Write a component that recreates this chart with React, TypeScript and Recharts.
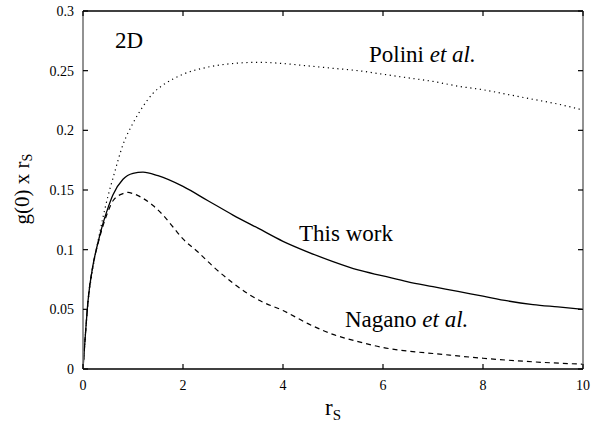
import React from "react";
import { LineChart, Line, XAxis, YAxis } from "recharts";

// This work (solid)
const thisWorkX = [0, 0.05, 0.1, 0.2, 0.3, 0.4, 0.5, 0.6, 0.8, 1.0, 1.2, 1.5, 2, 2.5, 3, 3.5, 4, 4.5, 5, 5.5, 6, 6.5, 7, 7.5, 8, 8.5, 9, 9.5, 10];
const thisWorkY = [0, 0.03, 0.057, 0.087, 0.106, 0.122, 0.135, 0.146, 0.159, 0.164, 0.165, 0.162, 0.153, 0.141, 0.129, 0.118, 0.107, 0.098, 0.09, 0.083, 0.078, 0.073, 0.069, 0.065, 0.061, 0.057, 0.054, 0.052, 0.05];

// Nagano et al. (dashed)
const naganoX = [0, 0.05, 0.1, 0.2, 0.3, 0.4, 0.5, 0.6, 0.8, 0.9, 1.0, 1.2, 1.4, 1.6, 1.8, 2.0, 2.3, 2.6, 3.0, 3.3, 3.6, 4, 4.5, 5, 5.5, 6, 6.5, 7, 8, 9, 10];
const naganoY = [0, 0.03, 0.057, 0.087, 0.105, 0.12, 0.132, 0.141, 0.147, 0.148, 0.147, 0.143, 0.137, 0.129, 0.119, 0.109, 0.098, 0.086, 0.072, 0.063, 0.056, 0.049, 0.038, 0.029, 0.023, 0.018, 0.015, 0.013, 0.009, 0.006, 0.004];

// Polini et al. (dotted)
const poliniX = [0, 0.05, 0.1, 0.2, 0.3, 0.4, 0.5, 0.6, 0.8, 1.0, 1.2, 1.4, 1.6, 1.8, 2.0, 2.5, 3, 3.5, 4, 4.5, 5, 5.5, 6, 6.5, 7, 7.5, 8, 8.5, 9, 9.5, 10];
const poliniY = [0, 0.03, 0.055, 0.085, 0.107, 0.127, 0.145, 0.16, 0.188, 0.206, 0.22, 0.231, 0.238, 0.243, 0.247, 0.253, 0.256, 0.257, 0.256, 0.254, 0.252, 0.25, 0.247, 0.244, 0.241, 0.237, 0.234, 0.23, 0.226, 0.222, 0.217];

const xTicks = [0, 2, 4, 6, 8, 10];
const yTicks = [0, 0.05, 0.1, 0.15, 0.2, 0.25, 0.3];

const toPts = (xs: number[], ys: number[]) => xs.map((x, i) => ({ x, y: ys[i] }));
const thisWork = toPts(thisWorkX, thisWorkY);
const nagano = toPts(naganoX, naganoY);
const polini = toPts(poliniX, poliniY);

const SERIF = "Liberation Serif";
const W = 592;
const H = 424;
const M = { top: 11, right: 9, bottom: 25, left: 0 };
const Y_AXIS_W = 83;
const X_AXIS_H = 30;
const X_MAX = 10;
const Y_MAX = 0.3;
// plot box derived from the chart's margins and axis sizes
const PL = M.left + Y_AXIS_W;
const PR = W - M.right;
const PT = M.top;
const PB = H - M.bottom - X_AXIS_H;
const sx = (v: number) => PL + (v / X_MAX) * (PR - PL);
const sy = (v: number) => PB - (v / Y_MAX) * (PB - PT);

export default function App() {
  return (
    <div style={{ position: "absolute", left: 0, top: 0, width: W, height: H, background: "#fff" }}>
      <LineChart width={W} height={H} margin={M}>
        <XAxis
          dataKey="x"
          type="number"
          domain={[0, X_MAX]}
          ticks={xTicks}
          tickLine={false}
          tickSize={0}
          tickMargin={11}
          height={X_AXIS_H}
          axisLine={{ stroke: "#000", strokeWidth: 1.6 }}
          tick={{ fill: "#000", fontSize: 14, fontFamily: SERIF }}
        />
        <YAxis
          type="number"
          domain={[0, Y_MAX]}
          ticks={yTicks}
          tickLine={false}
          tickSize={0}
          tickMargin={9}
          width={Y_AXIS_W}
          axisLine={{ stroke: "#777", strokeWidth: 1.6 }}
          tick={{ fill: "#000", fontSize: 14, fontFamily: SERIF }}
        />
        <Line data={polini} dataKey="y" type="monotone" stroke="#000" strokeWidth={1.2} strokeDasharray="1.2 3.6" dot={false} isAnimationActive={false} />
        <Line data={thisWork} dataKey="y" type="monotone" stroke="#000" strokeWidth={1.3} dot={false} isAnimationActive={false} />
        <Line data={nagano} dataKey="y" type="monotone" stroke="#000" strokeWidth={1.2} strokeDasharray="5 4" dot={false} isAnimationActive={false} />
      </LineChart>
      <svg width={W} height={H} style={{ position: "absolute", left: 0, top: 0, pointerEvents: "none" }}>
        {/* frame: top and right edges */}
        <line x1={PL} y1={PT} x2={PR} y2={PT} stroke="#000" strokeWidth={1.6} />
        <line x1={PR} y1={PT} x2={PR} y2={PB} stroke="#777" strokeWidth={1.6} />
        {/* inward ticks on all four sides */}
        {xTicks.map((t) => (
          <g key={"x" + t}>
            <line x1={sx(t)} y1={PB} x2={sx(t)} y2={PB - 5} stroke="#000" strokeWidth={1.2} />
            <line x1={sx(t)} y1={PT} x2={sx(t)} y2={PT + 5} stroke="#000" strokeWidth={1.2} />
          </g>
        ))}
        {yTicks.map((t) => (
          <g key={"y" + t}>
            <line x1={PL} y1={sy(t)} x2={PL + 5} y2={sy(t)} stroke="#000" strokeWidth={1.2} />
            <line x1={PR} y1={sy(t)} x2={PR - 5} y2={sy(t)} stroke="#000" strokeWidth={1.2} />
          </g>
        ))}
        <text x={22} y={189} transform="rotate(-90 22 189)" textAnchor="middle" dominantBaseline="central" fontFamily={SERIF} fontSize={21} fill="#000">
          g(0) x r<tspan fontSize={14} dy={5}>S</tspan>
        </text>
        <text x={333} y={415} textAnchor="middle" fontFamily={SERIF} fontSize={23} fill="#000">
          r<tspan fontSize={15} dy={5}>S</tspan>
        </text>
        <text x={115} y={48} fontFamily={SERIF} fontSize={23} fill="#000">2D</text>
        <text x={369} y={62} fontFamily={SERIF} fontSize={23} fill="#000">
          Polini  <tspan fontStyle="italic">et al.</tspan>
        </text>
        <text x={299} y={241} fontFamily={SERIF} fontSize={23} fill="#000">This work</text>
        <text x={345} y={327} fontFamily={SERIF} fontSize={23} fill="#000">
          Nagano <tspan fontStyle="italic">et al.</tspan>
        </text>
      </svg>
    </div>
  );
}
